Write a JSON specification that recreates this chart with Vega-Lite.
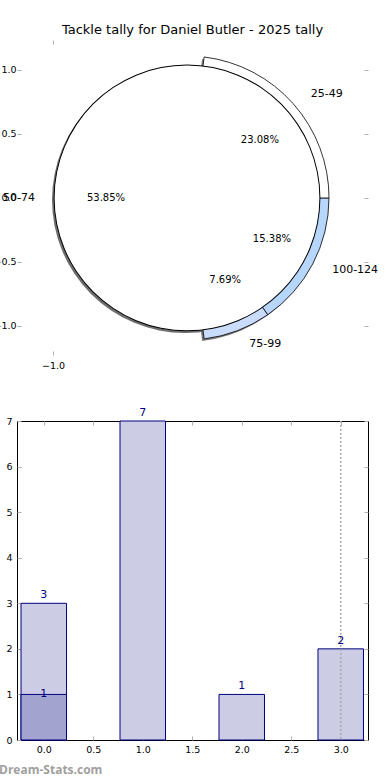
{
  "$schema": "https://vega.github.io/schema/vega-lite/v6.json",
  "padding": {"left": -8, "top": 23, "right": 0, "bottom": 0},
  "background": "white",
  "config": {
    "font": "DejaVu Sans",
    "view": {"stroke": null},
    "axis": {"domain": false, "grid": false, "labelFont": "DejaVu Sans", "labelFontSize": 9.5, "labelColor": "#000000", "tickColor": "#b0b0b0", "tickWidth": 1, "title": null}
  },
  "datasets": {
    "pie": [
      {"label": "0-24", "count": 0, "pct": "0.00%"},
      {"label": "100-124", "count": 2, "pct": "15.38%"},
      {"label": "25-49", "count": 3, "pct": "23.08%"},
      {"label": "50-74", "count": 7, "pct": "53.85%"},
      {"label": "75-99", "count": 1, "pct": "7.69%"}
    ],
    "bars": [
      {"x": 0, "count": 3},
      {"x": 1, "count": 7},
      {"x": 2, "count": 1},
      {"x": 3, "count": 2}
    ],
    "overlay": [
      {"x": 0, "count": 1}
    ]
  },
  "spacing": 36,
  "vconcat": [
    {
      "width": 351,
      "height": 315,
      "title": {"text": "Tackle tally for Daniel Butler - 2025 tally", "fontSize": 13, "fontWeight": "normal", "font": "DejaVu Sans", "color": "#000000", "offset": 3},
      "data": {"name": "pie"},
      "layer": [
        {
          "mark": {"type": "arc", "outerRadius": 142, "stroke": null, "xOffset": -2, "yOffset": 2},
          "encoding": {
            "theta": {"field": "count", "type": "quantitative", "stack": true, "scale": {"range": [2.5374, -3.7458]}},
            "order": {"field": "label", "type": "nominal", "sort": "ascending"},
            "fill": {"field": "label", "type": "nominal", "legend": null, "scale": {"domain": ["0-24", "100-124", "25-49", "50-74", "75-99"], "range": ["transparent", "#7a7a7a", "#7a7a7a", "transparent", "#7a7a7a"]}},
            "x": {"datum": 0, "type": "quantitative", "scale": {"domain": [-1.269, 1.351], "nice": false, "zero": false}, "axis": {"orient": "bottom", "values": [-1], "format": ".1f", "tickSize": -4, "labelPadding": 9}},
            "y": {"datum": 0, "type": "quantitative", "scale": {"domain": [-1.227, 1.234], "nice": false, "zero": false}, "axis": {"orient": "left", "values": [-1, -0.5, 0, 0.5, 1], "format": ".1f", "tickSize": -4, "labelPadding": 5}}
          }
        },
        {
          "transform": [{"filter": "datum.label === '50-74'"}],
          "mark": {"type": "arc", "theta": 0, "theta2": 6.2832, "outerRadius": 133, "fill": "#6e6e6e", "stroke": null, "xOffset": -2, "yOffset": 2},
          "encoding": {
            "x": {"datum": 0, "type": "quantitative", "axis": {"orient": "top", "values": [-1], "labels": false, "tickSize": -4}},
            "y": {"datum": 0, "type": "quantitative", "axis": {"orient": "right", "values": [-1, -0.5, 0, 0.5, 1], "labels": false, "tickSize": -4}}
          }
        },
        {
          "mark": {"type": "arc", "outerRadius": 142, "strokeWidth": 0.8},
          "encoding": {
            "theta": {"field": "count", "type": "quantitative", "stack": true},
            "order": {"field": "label", "type": "nominal", "sort": "ascending"},
            "fill": {"field": "label", "type": "nominal", "legend": null, "scale": {"domain": ["0-24", "100-124", "25-49", "50-74", "75-99"], "range": ["transparent", "#b7d6fc", "#ffffff", "transparent", "#c9dcfb"]}},
            "stroke": {"field": "label", "type": "nominal", "legend": null, "scale": {"domain": ["0-24", "100-124", "25-49", "50-74", "75-99"], "range": ["transparent", "#000000", "#000000", "transparent", "#000000"]}},
            "x": {"datum": 0, "type": "quantitative", "axis": null},
            "y": {"datum": 0, "type": "quantitative", "axis": null}
          }
        },
        {
          "transform": [{"filter": "datum.label === '50-74'"}],
          "mark": {"type": "arc", "theta": 0, "theta2": 6.2832, "outerRadius": 133, "fill": "#ffffff", "stroke": null},
          "encoding": {
            "x": {"datum": 0, "type": "quantitative", "axis": null},
            "y": {"datum": 0, "type": "quantitative", "axis": null}
          }
        },
        {
          "transform": [{"filter": "datum.label === '50-74'"}],
          "mark": {"type": "arc", "theta": 0, "theta2": 6.2832, "innerRadius": 132.4, "outerRadius": 133.4, "fill": "#000000", "stroke": null},
          "encoding": {
            "x": {"datum": 0, "type": "quantitative", "axis": null},
            "y": {"datum": 0, "type": "quantitative", "axis": null}
          }
        },
        {
          "mark": {"type": "text", "radius": 156, "dx": 7, "align": "left", "baseline": "middle", "fontSize": 11, "font": "DejaVu Sans", "color": "#000000"},
          "encoding": {
            "theta": {"field": "count", "type": "quantitative", "stack": true},
            "order": {"field": "label", "type": "nominal", "sort": "ascending"},
            "text": {"condition": {"test": "datum.label === '0-24' || datum.label === '50-74'", "value": ""}, "field": "label", "type": "nominal"},
            "x": {"datum": 0, "type": "quantitative", "axis": null},
            "y": {"datum": 0, "type": "quantitative", "axis": null}
          }
        },
        {
          "mark": {"type": "text", "radius": 154, "dx": 2, "align": "right", "baseline": "middle", "fontSize": 11, "font": "DejaVu Sans", "color": "#000000"},
          "encoding": {
            "theta": {"field": "count", "type": "quantitative", "stack": true},
            "order": {"field": "label", "type": "nominal", "sort": "ascending"},
            "text": {"condition": {"test": "datum.label !== '50-74'", "value": ""}, "field": "label", "type": "nominal"},
            "x": {"datum": 0, "type": "quantitative", "axis": null},
            "y": {"datum": 0, "type": "quantitative", "axis": null}
          }
        },
        {
          "mark": {"type": "text", "radius": 88, "dx": 7, "align": "center", "baseline": "middle", "fontSize": 10, "font": "DejaVu Sans", "color": "#000000"},
          "encoding": {
            "theta": {"field": "count", "type": "quantitative", "stack": true},
            "order": {"field": "label", "type": "nominal", "sort": "ascending"},
            "text": {"condition": {"test": "datum.label === '0-24'", "value": ""}, "field": "pct", "type": "nominal"},
            "x": {"datum": 0, "type": "quantitative", "axis": null},
            "y": {"datum": 0, "type": "quantitative", "axis": null}
          }
        }
      ],
      "resolve": {"axis": {"x": "independent", "y": "independent"}, "scale": {"fill": "independent"}}
    },
    {
      "width": 351,
      "height": 319,
      "view": {"stroke": "#000000", "strokeWidth": 1},
      "title": {"text": "Dream-Stats.com", "orient": "bottom", "anchor": "start", "frame": "group", "dx": -18, "offset": 11, "font": "Open Sans", "fontSize": 12, "fontWeight": "bold", "color": "#a0a0a0"},
      "layer": [
        {
          "data": {"name": "bars"},
          "mark": {"type": "bar", "width": 45.5, "fill": "#ccccE5", "stroke": "#000080", "strokeWidth": 1},
          "encoding": {
            "x": {"field": "x", "type": "quantitative", "scale": {"domain": [-0.22, 3.225], "nice": false, "zero": false}, "axis": {"orient": "bottom", "values": [0, 0.5, 1, 1.5, 2, 2.5, 3], "format": ".1f", "tickSize": -4, "labelPadding": 8}},
            "y": {"field": "count", "type": "quantitative", "stack": null, "scale": {"domain": [0, 7], "nice": false}, "axis": {"orient": "left", "values": [0, 1, 2, 3, 4, 5, 6, 7], "format": "d", "tickSize": -4, "labelPadding": 9}}
          }
        },
        {
          "data": {"name": "overlay"},
          "mark": {"type": "bar", "width": 45.5, "fill": "#a3a3cf", "stroke": "#000080", "strokeWidth": 1},
          "encoding": {
            "x": {"field": "x", "type": "quantitative", "axis": {"orient": "top", "values": [0, 0.5, 1, 1.5, 2, 2.5, 3], "labels": false, "tickSize": -4}},
            "y": {"field": "count", "type": "quantitative", "stack": null, "axis": {"orient": "right", "values": [0, 1, 2, 3, 4, 5, 6, 7], "labels": false, "tickSize": -4}}
          }
        },
        {
          "data": {"name": "bars"},
          "mark": {"type": "rule", "strokeDash": [1.5, 2.5], "color": "#a8a8a8", "strokeWidth": 1},
          "encoding": {
            "x": {"datum": 3, "type": "quantitative", "axis": null}
          }
        },
        {
          "data": {"name": "bars"},
          "mark": {"type": "text", "baseline": "alphabetic", "dy": -5, "fontSize": 11, "font": "DejaVu Sans", "color": "#000080"},
          "encoding": {
            "x": {"field": "x", "type": "quantitative", "axis": null},
            "y": {"field": "count", "type": "quantitative", "axis": null},
            "text": {"field": "count", "type": "quantitative"}
          }
        },
        {
          "data": {"name": "overlay"},
          "mark": {"type": "text", "baseline": "middle", "dy": 0, "fontSize": 11, "font": "DejaVu Sans", "color": "#000080"},
          "encoding": {
            "x": {"field": "x", "type": "quantitative", "axis": null},
            "y": {"field": "count", "type": "quantitative", "axis": null},
            "text": {"field": "count", "type": "quantitative"}
          }
        }
      ],
      "resolve": {"axis": {"x": "independent", "y": "independent"}}
    }
  ]
}
